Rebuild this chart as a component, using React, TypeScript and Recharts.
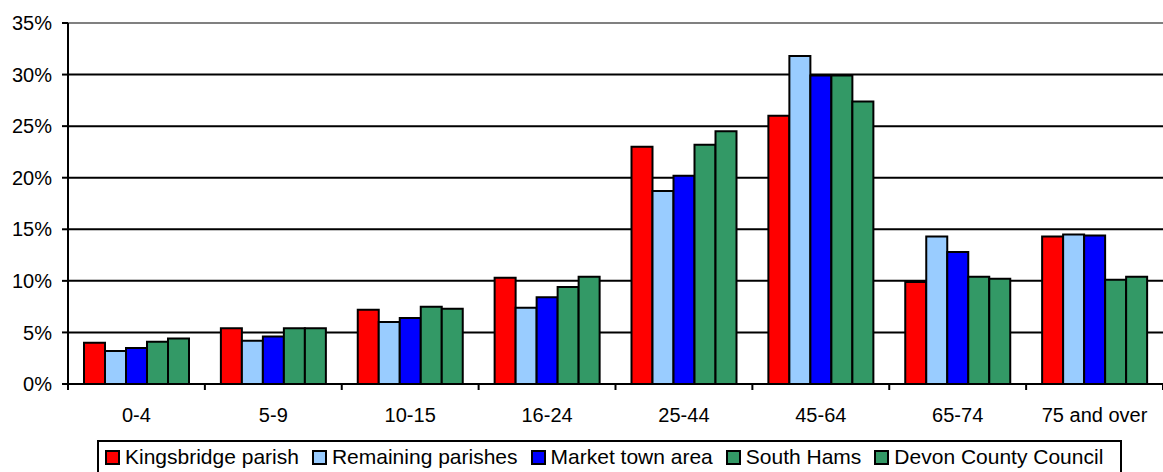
import { BarChart, Bar, XAxis, YAxis, CartesianGrid, ReferenceLine } from "recharts"

const categories = ["0-4", "5-9", "10-15", "16-24", "25-44", "45-64", "65-74", "75 and over"]
const kingsbridge = [4.0, 5.4, 7.2, 10.3, 23.0, 26.0, 9.9, 14.3]
const remaining = [3.2, 4.2, 6.0, 7.4, 18.7, 31.8, 14.3, 14.5]
const marketTown = [3.5, 4.6, 6.4, 8.4, 20.2, 29.9, 12.8, 14.4]
const southHams = [4.1, 5.4, 7.5, 9.4, 23.2, 29.9, 10.4, 10.1]
const devon = [4.4, 5.4, 7.3, 10.4, 24.5, 27.4, 10.2, 10.4]
const yTicks = [0, 5, 10, 15, 20, 25, 30, 35]

const series = [
  { key: "kingsbridge", name: "Kingsbridge parish", color: "#FF0000" },
  { key: "remaining", name: "Remaining parishes", color: "#99CCFF" },
  { key: "marketTown", name: "Market town area", color: "#0000FF" },
  { key: "southHams", name: "South Hams", color: "#339966" },
  { key: "devon", name: "Devon County Council", color: "#339966" },
]

const data = categories.map((name, i) => ({
  name,
  kingsbridge: kingsbridge[i],
  remaining: remaining[i],
  marketTown: marketTown[i],
  southHams: southHams[i],
  devon: devon[i],
}))

const FONT = "'Liberation Sans', Arial, sans-serif"

// x tick: label centred, tick marks on the category boundaries
const CategoryTick = (props: any) => {
  const { x, y, payload, width, visibleTicksCount, index } = props
  const step = width / visibleTicksCount
  const axisY = y - 8
  return (
    <g>
      <line x1={x - step / 2} y1={axisY} x2={x - step / 2} y2={axisY + 6} stroke="#000" strokeWidth={2} />
      {index === visibleTicksCount - 1 && (
        <line x1={x + step / 2} y1={axisY} x2={x + step / 2} y2={axisY + 6} stroke="#000" strokeWidth={2} />
      )}
      <text x={x} y={y} dy={30} textAnchor="middle" fill="#000" fontSize={20} fontFamily={FONT}>
        {payload.value}
      </text>
    </g>
  )
}

export default function App() {
  return (
    <div style={{ position: "absolute", left: 0, top: 0, width: 1163, height: 472, background: "#fff", overflow: "hidden" }}>
      <BarChart
        width={1163}
        height={472}
        data={data}
        margin={{ top: 23, right: 0, left: 0, bottom: 38 }}
        barCategoryGap={16}
        barGap={0}
      >
        <CartesianGrid vertical={false} stroke="#000" strokeWidth={2} />
        <XAxis
          dataKey="name"
          height={50}
          axisLine={{ stroke: "#000", strokeWidth: 2 }}
          tickLine={false}
          tickSize={6}
          tickMargin={2}
          interval={0}
          tick={<CategoryTick />}
        />
        <YAxis
          width={68}
          domain={[0, 35]}
          ticks={yTicks}
          tickFormatter={(v: number) => `${v}%`}
          axisLine={{ stroke: "#000", strokeWidth: 2 }}
          tickLine={{ stroke: "#000", strokeWidth: 2 }}
          tickSize={6}
          tickMargin={10}
          tick={{ fill: "#000", fontSize: 20, fontFamily: FONT }}
        />
        <ReferenceLine y={35} stroke="#808080" strokeWidth={2} />
        {series.map((s) => (
          <Bar key={s.key} dataKey={s.key} name={s.name} fill={s.color} stroke="#000" strokeWidth={2} isAnimationActive={false} />
        ))}
      </BarChart>
      <div
        style={{
          position: "absolute",
          left: 97,
          top: 440,
          width: 1025,
          height: 34,
          boxSizing: "border-box",
          border: "2px solid #000",
          display: "flex",
          alignItems: "center",
          paddingLeft: 6,
          fontFamily: FONT,
          fontSize: 21,
          color: "#000",
          whiteSpace: "nowrap",
        }}
      >
        {series.map((s) => (
          <div key={s.key} style={{ display: "flex", alignItems: "center", marginRight: 13 }}>
            <span
              style={{
                display: "inline-block",
                width: 15,
                height: 15,
                boxSizing: "border-box",
                border: "2px solid #000",
                background: s.color,
                marginRight: 5,
              }}
            />
            <span>{s.name}</span>
          </div>
        ))}
      </div>
    </div>
  )
}
